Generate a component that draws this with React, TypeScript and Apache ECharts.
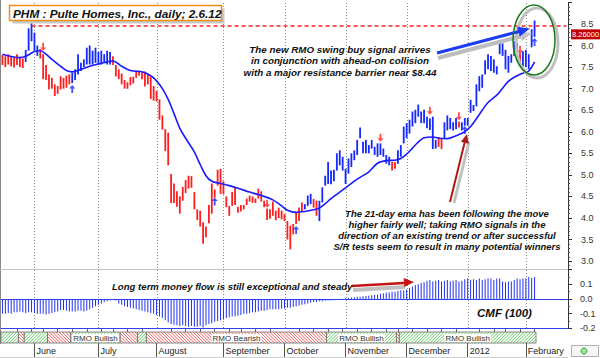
import React, { useEffect, useRef } from 'react';
import * as echarts from 'echarts';

const FONT = '"Liberation Sans", Arial, Helvetica, sans-serif';
const BLUE = '#1428ff';
const RED = '#ff1e1e';

// ---- calendar ----
const firstDay = '2011-05-16';
const lastDay = '2012-02-06';
const holidays = ['2011-05-30', '2011-07-04', '2011-09-05', '2011-11-24', '2011-12-26', '2012-01-02', '2012-01-16'];
const emptySlots = 11;
const monthNames = ['January', 'February', 'March', 'April', 'May', 'June', 'July', 'August', 'September', 'October', 'November', 'December'];

// ---- price bars (high / low), 1 = blue bar, 0 = red bar ----
const highs = [
  7.78, 7.75, 7.80, 7.76, 7.72, 7.80, 7.74, 7.70, 7.90, 8.40,
  8.52, 8.30, 8.00, 7.92, 7.80, 7.55, 7.33, 7.25, 7.10, 7.06,
  7.29, 7.25, 7.30, 7.33, 7.37, 7.45, 7.80, 7.60, 7.68, 7.95,
  8.00, 7.88, 7.95, 7.85, 7.88, 7.80, 7.88, 7.85, 7.75, 7.55,
  7.45, 7.35, 7.20, 7.15, 7.27, 7.28, 7.42, 7.42, 7.38, 7.40,
  7.35, 7.29, 7.06, 6.95, 6.75, 6.38, 6.06, 5.98, 5.02, 4.80,
  4.62, 4.50, 4.72, 4.88, 4.98, 4.97, 4.60, 4.20, 4.17, 3.90,
  3.80, 4.30, 4.80, 4.66, 5.12, 5.14, 4.85, 4.50, 4.28, 4.60,
  4.70, 4.26, 4.30, 4.30, 4.45, 4.52, 4.50, 4.45, 4.68, 4.62,
  4.40, 4.22, 4.20, 4.38, 4.17, 4.24, 4.17, 4.09, 3.93, 3.82,
  3.86, 4.13, 4.24, 4.36, 4.32, 4.52, 4.56, 4.44, 4.40, 4.40,
  4.71, 4.98, 5.30, 5.10, 5.12, 5.50, 5.57, 5.42, 5.14, 5.38,
  5.50, 5.57, 5.81, 6.10, 5.77, 5.81, 5.69, 5.81, 5.65, 5.73,
  5.73, 5.61, 5.46, 5.42, 5.30, 5.30, 5.57, 5.69, 6.12, 6.20,
  6.28, 6.47, 6.51, 6.63, 6.47, 6.51, 6.35, 6.31, 6.35, 5.81,
  5.88, 5.85, 6.22, 6.38, 6.32, 6.22, 6.32, 6.24, 6.22, 6.32,
  6.32, 6.74, 6.62, 7.10, 7.29, 7.33, 7.66, 7.80, 7.76, 7.68,
  7.52, 8.10, 8.05, 7.90, 7.76, 7.80, 8.10, 8.05, 7.82, 7.87,
  7.90, 7.80, 8.38, 8.58,
];
const lows = [
  7.55, 7.50, 7.56, 7.52, 7.49, 7.55, 7.50, 7.48, 7.62, 7.88,
  8.10, 7.88, 7.76, 7.70, 7.22, 7.20, 6.98, 7.00, 6.83, 6.88,
  6.98, 7.00, 7.02, 7.10, 7.13, 7.20, 7.33, 7.41, 7.50, 7.56,
  7.56, 7.56, 7.60, 7.56, 7.56, 7.60, 7.56, 7.56, 7.55, 7.28,
  7.22, 7.10, 7.00, 7.00, 7.08, 7.12, 7.25, 7.30, 7.22, 7.05,
  7.10, 6.76, 6.72, 6.70, 6.28, 6.05, 5.55, 5.22, 4.35, 4.35,
  4.26, 4.10, 4.40, 4.58, 4.68, 4.70, 4.20, 3.95, 3.80, 3.40,
  3.55, 3.88, 4.10, 4.47, 4.75, 4.56, 4.55, 4.25, 4.05, 4.28,
  4.30, 4.12, 4.15, 4.20, 4.30, 4.38, 4.35, 4.35, 4.45, 4.38,
  4.25, 3.95, 3.98, 4.05, 3.95, 4.00, 3.97, 3.93, 3.50, 3.27,
  3.62, 3.86, 3.93, 4.15, 4.20, 4.28, 4.32, 4.24, 4.05, 3.93,
  4.36, 4.75, 4.79, 4.78, 4.85, 5.10, 5.22, 5.10, 4.79, 5.03,
  5.18, 5.34, 5.46, 5.85, 5.50, 5.50, 5.50, 5.61, 5.46, 5.42,
  5.46, 5.42, 5.26, 5.22, 5.10, 5.14, 5.26, 5.42, 5.73, 5.85,
  5.96, 6.12, 6.20, 6.35, 6.20, 6.20, 6.08, 6.04, 5.60, 5.61,
  5.65, 5.60, 5.85, 6.03, 6.06, 6.03, 6.06, 6.10, 6.03, 6.14,
  6.14, 6.44, 6.48, 6.59, 6.94, 7.02, 7.33, 7.45, 7.41, 7.37,
  7.33, 7.80, 7.76, 7.45, 7.37, 7.60, 7.76, 7.64, 7.56, 7.52,
  7.50, 7.45, 7.96, 8.20,
];
const barUp = [
  0, 0, 0, 0, 0, 0, 0, 0, 1, 1,
  1, 1, 1, 0, 0, 0, 0, 0, 0, 0,
  0, 0, 0, 0, 1, 1, 1, 1, 1, 1,
  1, 1, 1, 1, 1, 1, 1, 1, 0, 0,
  0, 0, 0, 0, 0, 0, 0, 0, 0, 0,
  0, 0, 0, 0, 0, 0, 0, 0, 0, 0,
  0, 0, 0, 0, 0, 0, 0, 0, 0, 0,
  0, 0, 0, 0, 0, 0, 0, 0, 0, 0,
  0, 0, 0, 0, 0, 0, 0, 0, 0, 0,
  0, 0, 0, 0, 0, 0, 0, 0, 0, 0,
  0, 0, 0, 0, 1, 1, 1, 0, 0, 1,
  1, 1, 1, 1, 1, 1, 1, 1, 1, 1,
  1, 1, 1, 1, 1, 1, 1, 1, 1, 1,
  1, 1, 1, 1, 0, 0, 1, 1, 1, 1,
  1, 1, 1, 1, 1, 1, 1, 1, 1, 1,
  0, 0, 1, 1, 1, 1, 1, 0, 1, 1,
  1, 1, 1, 1, 1, 1, 1, 1, 1, 1,
  1, 1, 1, 1, 1, 1, 1, 1, 0, 1,
  1, 1, 1, 1,
];
const lastClose = 8.26;
const resistance = 8.46;

// 21-day EMA, read at selected bars [barIndex, value]
const emaPoints = [
  [0, 7.80], [6, 7.72], [8, 7.75], [11, 7.86], [13, 7.88], [15, 7.80], [17, 7.68], [20, 7.52], [22, 7.42], [24, 7.39],
  [27, 7.45], [30, 7.52], [33, 7.57], [36, 7.62], [38, 7.64], [41, 7.52], [44, 7.42], [48, 7.39], [51, 7.30], [53, 7.18],
  [55, 7.00], [57, 6.75], [59, 6.42], [61, 6.08], [63, 5.85], [66, 5.53], [68, 5.24], [70, 4.98], [72, 4.85], [75, 4.80],
  [78, 4.75], [81, 4.69], [85, 4.60], [89, 4.52], [93, 4.42], [96, 4.28], [98, 4.18], [101, 4.13], [104, 4.15], [107, 4.19],
  [109, 4.23], [111, 4.33], [113, 4.45], [116, 4.60], [119, 4.75], [122, 4.90], [126, 5.07], [129, 5.27], [132, 5.33], [135, 5.34],
  [137, 5.38], [139, 5.48], [141, 5.62], [143, 5.76], [145, 5.86], [148, 5.88], [150, 5.85], [153, 5.84], [156, 5.91], [159, 6.00],
  [161, 6.12], [163, 6.30], [165, 6.50], [167, 6.68], [170, 6.85], [172, 7.01], [174, 7.17], [177, 7.30], [179, 7.36], [181, 7.41],
  [183, 7.62],
];

// RMO signals [barIndex, price]
const buySignals = [[24, 6.99], [73, 4.38], [101, 3.72], [159, 6.04], [183, 8.08]];
const sellSignals = [[14, 7.97], [91, 4.33], [130, 5.86], [147, 6.49], [157, 6.36], [178, 7.90]];

// CMF(100)
const cmf = [
  -0.10, -0.10, -0.095, -0.10, -0.09, -0.09, -0.085, -0.09, -0.095, -0.09,
  -0.09, -0.095, -0.10, -0.10, -0.10, -0.105, -0.10, -0.095, -0.09, -0.085,
  -0.075, -0.075, -0.08, -0.085, -0.085, -0.085, -0.08, -0.08, -0.085, -0.08,
  -0.07, -0.06, -0.05, -0.04, -0.03, -0.02, -0.015, -0.01, -0.005, -0.01,
  -0.03, -0.04, -0.05, -0.055, -0.06, -0.065, -0.07, -0.075, -0.08, -0.085,
  -0.09, -0.095, -0.10, -0.11, -0.12, -0.13, -0.145, -0.16, -0.17, -0.175,
  -0.18, -0.185, -0.18, -0.185, -0.19, -0.185, -0.19, -0.19, -0.185, -0.195,
  -0.18, -0.17, -0.165, -0.155, -0.15, -0.145, -0.14, -0.13, -0.125, -0.12,
  -0.12, -0.115, -0.11, -0.10, -0.10, -0.095, -0.09, -0.09, -0.085, -0.08,
  -0.08, -0.075, -0.07, -0.07, -0.07, -0.07, -0.065, -0.065, -0.06, -0.06,
  -0.055, -0.05, -0.045, -0.04, -0.035, -0.03, -0.025, -0.02, -0.02, -0.015,
  -0.015, -0.012, -0.01, -0.01, -0.008, -0.005, -0.003, 0.002, 0.005, 0.008,
  0.01, 0.012, 0.015, 0.015, 0.018, 0.02, 0.022, 0.025, 0.028, 0.03,
  0.035, 0.04, 0.045, 0.045, 0.05, 0.05, 0.055, 0.06, 0.06, 0.065,
  0.075, 0.085, 0.095, 0.10, 0.11, 0.115, 0.125, 0.13, 0.12, 0.125,
  0.13, 0.12, 0.125, 0.13, 0.12, 0.125, 0.13, 0.12, 0.125, 0.135,
  0.14, 0.13, 0.135, 0.13, 0.14, 0.13, 0.135, 0.14, 0.14, 0.13,
  0.14, 0.14, 0.12, 0.115, 0.12, 0.12, 0.13, 0.14, 0.135, 0.14,
  0.14, 0.15, 0.145, 0.15,
];

// RMO state band [startBar, endBar, bullish]
const rmoSegments = [
  [0, 5, 1], [6, 7, 0], [8, 15, 1], [16, 23, 0], [24, 40, 1], [41, 46, 0],
  [47, 49, 1], [50, 111, 0], [112, 135, 1], [136, 136, 0], [137, 183, 1],
];

const priceTicks = [3, 3.5, 4, 4.5, 5, 5.5, 6, 6.5, 7, 7.5, 8, 8.5];
const priceRange = [2.816, 9];
const cmfRange = [-0.2, 0.2];

function buildDates(): string[] {
  const out: string[] = [];
  const d = new Date(firstDay + 'T00:00:00Z');
  const end = new Date(lastDay + 'T00:00:00Z');
  while (d.getTime() <= end.getTime()) {
    const wd = d.getUTCDay();
    const s = d.toISOString().slice(0, 10);
    if (wd !== 0 && wd !== 6 && holidays.indexOf(s) < 0) out.push(s);
    d.setUTCDate(d.getUTCDate() + 1);
  }
  return out;
}

export default function App() {
  const ref = useRef<HTMLDivElement>(null);
  useEffect(() => {
    if (!ref.current) return;
    const chart = echarts.init(ref.current, undefined, { renderer: 'svg' });
    const dates = buildDates();
    const cats = dates.concat(Array.from({ length: emptySlots }, (_, k) => 'pad' + k));
    const monthStart: Record<number, string> = {};
    const weekStart: Record<number, boolean> = {};
    for (let i = 1; i < dates.length; i++) {
      if (dates[i].slice(0, 7) !== dates[i - 1].slice(0, 7)) {
        const m = parseInt(dates[i].slice(5, 7), 10);
        monthStart[i] = m === 1 ? dates[i].slice(0, 4) : monthNames[m - 1];
      }
      const wd = new Date(dates[i] + 'T00:00:00Z').getUTCDay();
      const pwd = new Date(dates[i - 1] + 'T00:00:00Z').getUTCDay();
      if (wd < pwd) weekStart[i] = true;
    }
    const monthIdx = Object.keys(monthStart).map(Number);

    const rmoText = (idx: number) => {
      const s = rmoSegments[idx];
      if (s[1] - s[0] + 1 < 15) return '';
      return s[2] ? 'RMO Bullish' : 'RMO Bearish';
    };

    // month separators drawn through the axes' own scales, as rows of small dots
    const monthLineSeries = (gridIdx: number, range: number[]) => ({
      type: 'custom', xAxisIndex: gridIdx, yAxisIndex: gridIdx, z: 1, silent: true,
      data: monthIdx.map((i) => [i, range[0], range[1]]),
      encode: { x: 0, y: [1, 2] },
      renderItem: (_p: any, api: any) => {
        const a = api.coord([api.value(0), api.value(2)]);
        const b = api.coord([api.value(0), api.value(1)]);
        const x = Math.round(a[0]);
        const dots: any[] = [];
        for (let y = Math.ceil(a[1]); y < b[1]; y += 3) {
          dots.push({ type: 'rect', shape: { x, y, width: 1, height: 1 }, style: { fill: '#8a8a8a' } });
        }
        return { type: 'group', children: dots };
      },
    });

    const axisFont = { fontFamily: FONT, fontSize: 9, color: '#333' };

    const option: any = {
      animation: false,
      backgroundColor: '#fff',
      grid: [
        { left: 1, right: 32, top: 2.45, height: 266.55 },
        { left: 1, right: 32, top: 269.7, height: 58.6 },
        { left: 1, right: 32, top: 332, height: 11 },
      ],
      xAxis: [
        { type: 'category', gridIndex: 0, data: cats, axisLine: { show: false }, axisTick: { show: false }, axisLabel: { show: false }, splitLine: { show: false } },
        { type: 'category', gridIndex: 1, data: cats, axisLine: { show: false }, axisTick: { show: false }, axisLabel: { show: false }, splitLine: { show: false } },
        {
          type: 'category', gridIndex: 2, data: cats,
          axisLine: { show: false },
          axisTick: { show: true, alignWithLabel: true, interval: (i: number) => !!monthStart[i], length: 14, lineStyle: { color: '#555' } },
          axisLabel: {
            interval: (i: number) => !!monthStart[i],
            formatter: (_v: string, i: number) => monthStart[i] || '',
            align: 'left', margin: 3, padding: [0, 0, 0, 2], ...axisFont, color: '#222',
          },
          splitLine: { show: false },
        },
        {
          type: 'category', gridIndex: 2, data: cats,
          axisLine: { show: false },
          axisTick: { show: true, alignWithLabel: true, interval: (i: number) => !!weekStart[i] && !monthStart[i], length: 4, lineStyle: { color: '#666' } },
          axisLabel: { show: false },
          splitLine: { show: false },
        },
      ],
      yAxis: [
        {
          type: 'value', gridIndex: 0, position: 'right', min: priceRange[0], max: priceRange[1],
          minInterval: 0.5, maxInterval: 0.5, scale: true,
          axisLine: { show: true, lineStyle: { color: '#333' } },
          axisTick: { show: true, length: 4, lineStyle: { color: '#333' } },
          minorTick: { show: true, splitNumber: 5, length: 2, lineStyle: { color: '#555' } },
          axisLabel: { customValues: priceTicks, formatter: (v: number) => v.toFixed(1), margin: 13, ...axisFont },
          splitLine: { show: false },
        },
        {
          type: 'value', gridIndex: 1, position: 'right', min: cmfRange[0], max: cmfRange[1], interval: 0.1,
          axisLine: { show: true, lineStyle: { color: '#333' } },
          axisTick: { show: true, length: 4, lineStyle: { color: '#333' } },
          minorTick: { show: true, splitNumber: 2, length: 2, lineStyle: { color: '#555' } },
          axisLabel: { formatter: (v: number) => (v > 0.15 ? '' : v.toFixed(1)), margin: 12, ...axisFont },
          splitLine: { show: false },
        },
        { type: 'value', gridIndex: 2, min: 0, max: 1, show: false },
      ],
      series: [
        monthLineSeries(0, priceRange),
        monthLineSeries(1, cmfRange),
        {
          type: 'custom', name: 'bars', xAxisIndex: 0, yAxisIndex: 0, z: 2,
          data: highs.map((h, i) => [i, h, lows[i], barUp[i]]),
          encode: { x: 0, y: [1, 2] },
          renderItem: (_p: any, api: any) => {
            const i = api.value(0);
            const hi = api.coord([i, api.value(1)]);
            const lo = api.coord([i, api.value(2)]);
            return {
              type: 'rect',
              shape: { x: hi[0] - 0.9, y: hi[1], width: 1.8, height: Math.max(1, lo[1] - hi[1]) },
              style: { fill: api.value(3) ? BLUE : RED },
            };
          },
        },
        {
          type: 'line', name: 'ema', xAxisIndex: 0, yAxisIndex: 0, z: 3,
          data: emaPoints, smooth: 0.35, showSymbol: false, symbol: 'none',
          lineStyle: { color: '#1a1aff', width: 1.6 },
          markLine: {
            silent: true, symbol: 'none', label: { show: false },
            data: [
              [
                { coord: [cats[10], resistance], lineStyle: { type: [4, 3], color: '#ff2020', width: 1.5 } },
                { coord: [cats[cats.length - 1], resistance] },
              ],
            ],
          },
        },
        {
          type: 'scatter', name: 'buy', xAxisIndex: 0, yAxisIndex: 0, z: 5,
          data: buySignals,
          symbol: 'path://M5,0 L10,6 L6.5,6 L6.5,14 L3.5,14 L3.5,6 L0,6 Z',
          symbolSize: [6, 8], itemStyle: { color: BLUE },
        },
        {
          type: 'scatter', name: 'sell', xAxisIndex: 0, yAxisIndex: 0, z: 5,
          data: sellSignals,
          symbol: 'path://M3.5,0 L6.5,0 L6.5,8 L10,8 L5,14 L0,8 L3.5,8 Z',
          symbolSize: [6, 8], itemStyle: { color: RED },
        },
        {
          type: 'bar', name: 'cmf', xAxisIndex: 1, yAxisIndex: 1, z: 2,
          data: cmf, barWidth: 1, itemStyle: { color: '#2030f0' },
          markLine: {
            silent: true, symbol: 'none', label: { show: false },
            data: [
              { yAxis: 0, lineStyle: { type: 'solid', color: '#3040f0', width: 1 } },
              { yAxis: -0.2, lineStyle: { type: 'solid', color: '#3040f0', width: 1.2 } },
            ],
          },
        },
        {
          type: 'custom', name: 'rmo', xAxisIndex: 2, yAxisIndex: 2,
          data: rmoSegments,
          encode: { x: [0, 1] },
          renderItem: (params: any, api: any) => {
            const s = api.value(0), e = api.value(1), bull = api.value(2);
            const w = api.size([1, 0])[0];
            const a = api.coord([s, 1]);
            const b = api.coord([e, 0]);
            const x0 = a[0] - w / 2, x1 = b[0] + w / 2, y0 = a[1], y1 = b[1];
            const h = y1 - y0;
            const color = bull ? '#3ec43e' : '#f03a3a';
            const children: any[] = [
              { type: 'rect', shape: { x: x0, y: y0, width: x1 - x0, height: h }, style: { fill: '#fff' } },
            ];
            for (let st = x0 - h; st < x1; st += 3.2) {
              const tmin = Math.max(0, (x0 - st) / h);
              const tmax = Math.min(1, (x1 - st) / h);
              if (tmax <= tmin) continue;
              if (bull) {
                children.push({ type: 'line', shape: { x1: st + h * tmin, y1: y1 - h * tmin, x2: st + h * tmax, y2: y1 - h * tmax }, style: { stroke: color, lineWidth: 0.8 } });
              } else {
                children.push({ type: 'line', shape: { x1: st + h * tmin, y1: y0 + h * tmin, x2: st + h * tmax, y2: y0 + h * tmax }, style: { stroke: color, lineWidth: 0.8 } });
              }
            }
            children.push({ type: 'rect', shape: { x: x0, y: y0, width: x1 - x0, height: h }, style: { fill: 'none', stroke: '#6a6a6a', lineWidth: 0.8 } });
            const t = rmoText(params.dataIndex);
            if (t) {
              children.push({
                type: 'text', x: (x0 + x1) / 2, y: (y0 + y1) / 2 + 0.5,
                style: { text: t, align: 'center', verticalAlign: 'middle', font: `8px ${FONT}`, fill: '#333', backgroundColor: '#fff', padding: [0, 1] },
              });
            }
            return { type: 'group', children };
          },
        },
      ],
    };
    chart.setOption(option);

    const yLast = chart.convertToPixel({ yAxisIndex: 0 }, lastClose) as number;
    const boldItalic = (size: number) => `italic bold ${size}px ${FONT}`;
    const ann1 = ['The new RMO swing buy signal arrives', 'in conjunction with ahead-on collision', 'with a major resistance barrier near $8.44'];
    const ann2 = ['The 21-day ema has been following the move', 'higher fairly well; taking RMO signals in the', 'direction of an existing trend or after successful', 'S/R tests seem to result in many potential winners'];
    const graphics: any[] = [
      { type: 'line', shape: { x1: 0.5, y1: 0, x2: 0.5, y2: 344 }, style: { stroke: '#888', lineWidth: 1 } },
      { type: 'line', shape: { x1: 0, y1: 269.5, x2: 568, y2: 269.5 }, style: { stroke: '#c4c4c4', lineWidth: 1 } },
      { type: 'line', shape: { x1: 0, y1: 357.5, x2: 568, y2: 357.5 }, style: { stroke: '#cfcfcf', lineWidth: 1 } },
      // title
      { type: 'rect', shape: { x: 12.5, y: 8.5, width: 212, height: 15 }, style: { fill: '#c8c8c8' }, z: 10 },
      { type: 'rect', shape: { x: 9.5, y: 5.5, width: 212, height: 15 }, style: { fill: '#fff', stroke: '#f0901a', lineWidth: 1.5 }, z: 11 },
      { type: 'text', x: 13, y: 13.5, style: { text: 'PHM : Pulte Homes, Inc., daily; 2.6.12', font: boldItalic(11.8), fill: '#111', verticalAlign: 'middle' }, z: 12 },
      // annotation 1
      ...ann1.map((t, k) => ({ type: 'text', x: 340, y: 49 + k * 11.7, style: { text: t, font: boldItalic(9.8), fill: '#111', align: 'center', verticalAlign: 'middle' }, z: 12 })),
      // blue arrow with shadow
      { type: 'line', shape: { x1: 438, y1: 58, x2: 522, y2: 36 }, style: { stroke: '#bdbdbd', lineWidth: 4 }, z: 10 },
      { type: 'polygon', shape: { points: [[532, 33], [519, 31.5], [522, 41]] }, style: { fill: '#c4c4c4' }, z: 10 },
      { type: 'line', shape: { x1: 437, y1: 53, x2: 519, y2: 31.5 }, style: { stroke: '#1c3cf0', lineWidth: 3 }, z: 11 },
      { type: 'polygon', shape: { points: [[530, 28.5], [517.1, 26.8], [519.7, 36.4]] }, style: { fill: '#1c3cf0' }, z: 11 },
      // green ellipse with shadow
      { type: 'ellipse', shape: { cx: 537, cy: 43, rx: 21, ry: 35 }, style: { fill: 'none', stroke: '#c0c0c0', lineWidth: 3 }, z: 9 },
      { type: 'ellipse', shape: { cx: 534, cy: 40, rx: 21, ry: 35 }, style: { fill: 'none', stroke: '#1f7a1f', lineWidth: 1.5 }, z: 11 },
      // red arrow in price panel
      { type: 'line', shape: { x1: 454, y1: 203, x2: 469, y2: 142 }, style: { stroke: '#c0c0c0', lineWidth: 3 }, z: 10 },
      { type: 'line', shape: { x1: 450, y1: 202, x2: 465, y2: 141 }, style: { stroke: '#b01818', lineWidth: 2 }, z: 11 },
      { type: 'polygon', shape: { points: [[467, 134], [468.7, 143.7], [460.9, 141.7]] }, style: { fill: '#b01818' }, z: 11 },
      // annotation 2
      ...ann2.map((t, k) => ({ type: 'text', x: 447, y: 213 + k * 11.2, style: { text: t, font: boldItalic(9.5), fill: '#111', align: 'center', verticalAlign: 'middle' }, z: 12 })),
      // CMF panel
      { type: 'text', x: 112, y: 286, style: { text: 'Long term money flow is still exceptional and steady', font: boldItalic(9.6), fill: '#111', verticalAlign: 'middle' }, z: 12 },
      { type: 'line', shape: { x1: 353, y1: 290, x2: 405, y2: 287 }, style: { stroke: '#c0c0c0', lineWidth: 4 }, z: 10 },
      { type: 'line', shape: { x1: 352, y1: 286, x2: 404, y2: 283 }, style: { stroke: '#c41414', lineWidth: 2.5 }, z: 11 },
      { type: 'polygon', shape: { points: [[414, 282], [404.3, 287.1], [403.7, 278.1]] }, style: { fill: '#c41414' }, z: 11 },
      { type: 'text', x: 477, y: 312.5, style: { text: 'CMF (100)', font: boldItalic(11.5), fill: '#111', verticalAlign: 'middle' }, z: 12 },
      // last price
      { type: 'text', x: 571, y: yLast, style: { text: lastClose.toFixed(5), font: `7.5px ${FONT}`, fill: '#fff', backgroundColor: '#c00000', padding: [1, 1], verticalAlign: 'middle' }, z: 12 },
      // small logo box
      { type: 'rect', shape: { x: 571.5, y: 345.5, width: 27, height: 11 }, style: { fill: '#f6f6f6', stroke: '#b0b0b0', lineWidth: 1 } },
      { type: 'circle', shape: { cx: 584, cy: 351, r: 3 }, style: { fill: '#9be89b', stroke: '#2aa52a', lineWidth: 1 } },
    ];
    chart.setOption({ graphic: graphics });

    return () => chart.dispose();
  }, []);
  return <div ref={ref} style={{ position: 'absolute', left: 0, top: 0, width: 600, height: 358, background: '#fff' }} />;
}
